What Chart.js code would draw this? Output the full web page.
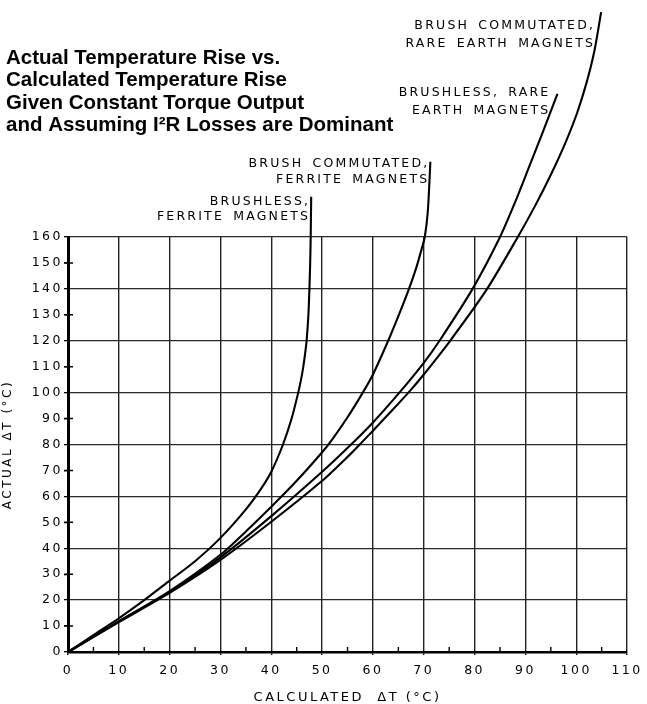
<!DOCTYPE html>
<html><head><meta charset="utf-8">
<script src="https://cdn.jsdelivr.net/npm/chart.js@4/dist/chart.umd.min.js"></script>
<style>html,body{margin:0;padding:0;background:#fff}canvas{display:block}</style>
</head><body>
<canvas id="c" width="647" height="704"></canvas>
<script>
// ---------- text ----------
const titleLines = [
  "Actual Temperature Rise vs.",
  "Calculated Temperature Rise",
  "Given Constant Torque Output",
  "and Assuming I\u00B2R Losses are Dominant"
];
const xAxisTitle = "CALCULATED  \u0394T (\u00B0C)";
const yAxisTitle = "ACTUAL \u0394T (\u00B0C)";

// ---------- ticks ----------
const xTicks = [0, 10, 20, 30, 40, 50, 60, 70, 80, 90, 100, 110];
const xMinorTicks = [5, 15, 25, 35, 45, 55, 65, 75, 85, 95, 105];
const yTicks = [0, 10, 20, 30, 40, 50, 60, 70, 80, 90, 100, 110, 120, 130, 140, 150, 160];
const yGridValues = [0, 20, 40, 60, 80, 100, 120, 140, 160];
const yMinorTicks = [10, 30, 50, 70, 90, 110, 130, 150];

// ---------- series (calculated dT -> actual dT) ----------
const brushlessFerriteLabel = ["BRUSHLESS,", "FERRITE MAGNETS"];
const brushlessFerriteX = [0, 5, 10, 15, 20, 25, 30, 35, 38, 40, 42.3, 44, 45.3, 45.85, 46.3, 46.65, 46.95, 47.3, 47.5, 47.65, 47.75, 47.85];
const brushlessFerriteY = [0, 6.5, 13, 20, 27.5, 35, 44, 55, 63, 69.5, 80, 90, 100, 105, 110, 115, 120, 130, 140, 150, 160, 175.5];

const brushFerriteLabel = ["BRUSH COMMUTATED,", "FERRITE MAGNETS"];
const brushFerriteX = [0, 10, 20, 30, 35, 40, 45, 50, 52, 55, 58, 60, 63, 65, 67, 68.5, 69.6, 70.2, 70.8, 71.3];
const brushFerriteY = [0, 11.8, 23.5, 37.5, 46.5, 56, 66, 77, 82, 90.5, 100, 107, 120, 129.5, 139.5, 148, 155.5, 160, 170, 189];

const brushlessRareEarthLabel = ["BRUSHLESS, RARE", "EARTH MAGNETS"];
const brushlessRareEarthX = [0, 10, 20, 30, 40, 50, 55.7, 60, 65.2, 70, 73.1, 79.6, 85, 88.2, 90.8, 93.4, 96.3];
const brushlessRareEarthY = [0, 11.8, 23.2, 36.5, 52.4, 69.5, 80, 88.5, 100, 111.5, 120, 140, 160, 174.5, 187.4, 200.3, 215.2];

const brushRareEarthLabel = ["BRUSH COMMUTATED,", "RARE EARTH MAGNETS"];
const brushRareEarthX = [0, 10, 20, 30, 40, 50, 55.4, 57.4, 60, 63.5, 67.2, 70, 75, 82.3, 88.5, 91.9, 95.0, 97.8, 100.2, 102.1, 103.6, 104.9];
const brushRareEarthY = [0, 11.5, 22.8, 35.5, 50.2, 66, 76, 80, 85.3, 92.6, 100.5, 107, 119.5, 139.5, 160, 172, 184, 196, 208, 220, 232, 246.7];

// label placement relative to each curve's upper end (pixels): [dx right edge, dy line1, dy line2]
const labelOffsets = [
  [-1, 5, 20],
  [-1, 2, 18],
  [-7, -1, 17],
  [-6, 14, 32]
];

function pts(xs, ys) { return xs.map((x, i) => ({ x: x, y: ys[i] })); }
function ds(xs, ys, lbl) {
  return {
    label: lbl.join(' '),
    data: pts(xs, ys),
    borderColor: '#000',
    borderWidth: 2.1,
    pointRadius: 0,
    fill: false,
    tension: 0.25,
    clip: false
  };
}
const seriesLabels = [brushlessFerriteLabel, brushFerriteLabel, brushlessRareEarthLabel, brushRareEarthLabel];

const TICK_FONT = { family: '"DejaVu Sans"', size: 12.5 };

const decor = {
  id: 'decor',
  beforeDraw(chart) {
    const ctx = chart.ctx;
    ctx.save();
    ctx.fillStyle = '#fff';
    ctx.fillRect(0, 0, chart.width, chart.height);
    ctx.restore();
    ctx.letterSpacing = '2.5px';
    ctx.wordSpacing = '0px';
  },
  beforeDatasetsDraw(chart) {
    const ctx = chart.ctx, xs = chart.scales.x, ys = chart.scales.y;
    ctx.save();
    ctx.strokeStyle = '#000';
    ctx.lineWidth = 1.4;
    ctx.beginPath();
    xMinorTicks.forEach(v => {
      const p = xs.getPixelForValue(v);
      ctx.moveTo(p, ys.bottom + 1);
      ctx.lineTo(p, ys.bottom - 5);
    });
    yMinorTicks.forEach(v => {
      const p = ys.getPixelForValue(v);
      ctx.moveTo(xs.left - 4, p);
      ctx.lineTo(xs.left + 5, p);
    });
    ctx.stroke();
    ctx.restore();
  },
  afterDraw(chart) {
    const ctx = chart.ctx, xs = chart.scales.x, ys = chart.scales.y;
    ctx.save();
    ctx.fillStyle = '#000';
    // title
    ctx.letterSpacing = '0px';
    ctx.wordSpacing = '0px';
    ctx.font = 'bold 20.5px "Liberation Sans"';
    ctx.textAlign = 'left';
    ctx.textBaseline = 'alphabetic';
    const baselines = [64, 86, 108.5, 131];
    titleLines.forEach((t, i) => ctx.fillText(t, 6, baselines[i]));
    // curve labels
    ctx.letterSpacing = '2.2px';
    ctx.wordSpacing = '3px';
    ctx.font = '12.5px "DejaVu Sans"';
    ctx.textAlign = 'right';
    ctx.textBaseline = 'middle';
    chart.data.datasets.forEach((d, i) => {
      const last = d.data[d.data.length - 1];
      const px = xs.getPixelForValue(last.x), py = ys.getPixelForValue(last.y);
      const o = labelOffsets[i];
      ctx.fillText(seriesLabels[i][0], px + o[0], py + o[1]);
      ctx.fillText(seriesLabels[i][1], px + o[0], py + o[2]);
    });
    ctx.restore();
  }
};

new Chart(document.getElementById('c'), {
  type: 'line',
  data: {
    datasets: [
      ds(brushlessFerriteX, brushlessFerriteY, brushlessFerriteLabel),
      ds(brushFerriteX, brushFerriteY, brushFerriteLabel),
      ds(brushlessRareEarthX, brushlessRareEarthY, brushlessRareEarthLabel),
      ds(brushRareEarthX, brushRareEarthY, brushRareEarthLabel)
    ]
  },
  options: {
    responsive: false,
    animation: false,
    devicePixelRatio: 1,
    layout: { padding: { top: 237, right: 19, bottom: 0, left: 0 } },
    plugins: { legend: { display: false }, tooltip: { enabled: false }, title: { display: false } },
    scales: {
      x: {
        type: 'linear', min: 0, max: 110,
        afterBuildTicks: s => { s.ticks = xTicks.map(v => ({ value: v })); },
        afterFit: s => { s.height = 52; },
        grid: { color: '#222', lineWidth: 1.4, tickLength: 3, drawTicks: true, tickColor: '#000' },
        border: { display: true, color: '#000', width: 2.6 },
        ticks: { font: TICK_FONT, color: '#000', padding: 8, maxRotation: 0, autoSkip: false },
        title: { display: true, text: xAxisTitle, color: '#000', font: { family: '"DejaVu Sans"', size: 13, lineHeight: 1 }, padding: { top: 0, bottom: 0 } }
      },
      y: {
        type: 'linear', min: 0, max: 160,
        afterBuildTicks: s => { s.ticks = yTicks.map(v => ({ value: v })); },
        afterFit: s => { s.width = 68; },
        grid: {
          color: c => (c.tick && yGridValues.includes(c.tick.value)) ? '#2a2a2a' : 'rgba(0,0,0,0)',
          lineWidth: 1.3, tickLength: 4, drawTicks: true, tickColor: '#000'
        },
        border: { display: true, color: '#000', width: 3 },
        ticks: { font: TICK_FONT, color: '#000', padding: 1, autoSkip: false },
        title: { display: true, text: yAxisTitle, color: '#000', font: { family: '"DejaVu Sans"', size: 12, lineHeight: 1 }, padding: { top: 2, bottom: 0 } }
      }
    }
  },
  plugins: [decor]
});
</script>
</body></html>
